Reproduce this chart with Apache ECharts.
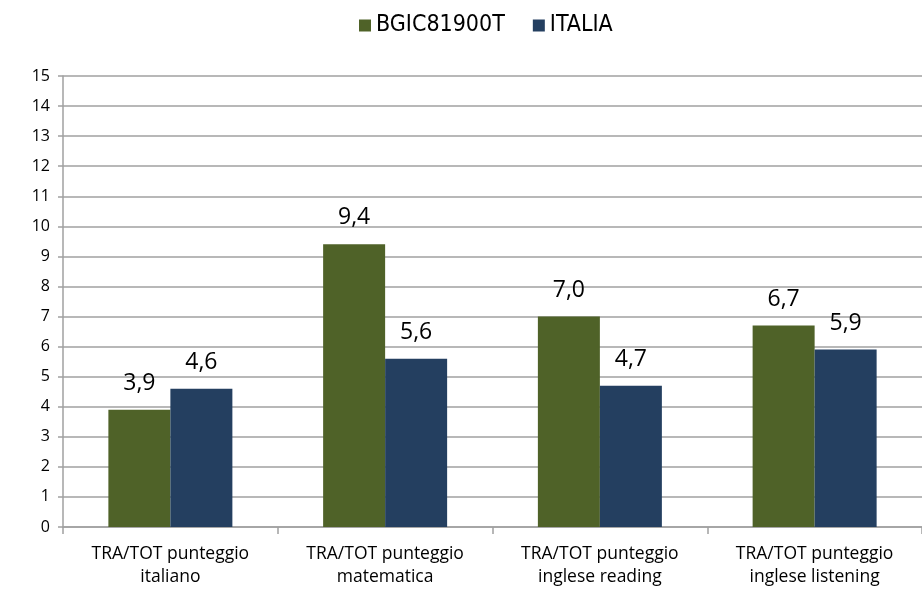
<!DOCTYPE html>
<html>
<head>
<meta charset="utf-8">
<style type="text/css">
html,body{margin:0;padding:0;background:#fff;}
#chart{width:922px;height:591px;}
</style>
<script src="https://cdn.jsdelivr.net/npm/echarts@6/dist/echarts.min.js"></script>
</head>
<body>
<div id="chart"></div>
<script type="text/javascript">
var categories = ['TRA/TOT punteggio\nitaliano', 'TRA/TOT punteggio\nmatematica', 'TRA/TOT punteggio\ninglese reading', 'TRA/TOT punteggio\ninglese listening'];
var seriesNames = ['BGIC81900T', 'ITALIA'];
var scuola = [3.9, 9.4, 7.0, 6.7];
var italia = [4.6, 5.6, 4.7, 5.9];

var chart = echarts.init(document.getElementById('chart'));

function etichetta(p){
    return p.value.toFixed(1).replace('.', ',');
}

var option = {
    animation: false,
    legend: {
        top: 9,
        left: 354,
        itemWidth: 12,
        itemHeight: 12,
        itemGap: 28,
        icon: 'rect',
        textStyle: {fontFamily: 'Liberation Sans Narrow, DejaVu Sans Condensed, sans-serif', fontSize: 23, color: '#000'},
        data: seriesNames
    },
    grid: {left: 63, top: 76, width: 870, height: 451},
    xAxis: {
        type: 'category',
        data: categories,
        axisLine: {lineStyle: {color: '#a0a0a0', width: 1.5}},
        axisTick: {show: true, length: 7, lineStyle: {color: '#a0a0a0', width: 1.5}},
        axisLabel: {color: '#000', fontFamily: 'Open Sans, sans-serif', fontSize: 17.5, lineHeight: 23, margin: 16}
    },
    yAxis: {
        type: 'value',
        min: 0,
        max: 15,
        interval: 1,
        axisLine: {show: true, lineStyle: {color: '#a0a0a0', width: 1.5}},
        axisTick: {show: true, length: 5, lineStyle: {color: '#a0a0a0', width: 1.5}},
        splitLine: {lineStyle: {color: '#a0a0a0', width: 1.5}},
        axisLabel: {color: '#000', fontFamily: 'Open Sans, sans-serif', fontSize: 16, margin: 13}
    },
    series: [
        {
            name: seriesNames[0],
            type: 'bar',
            data: scuola,
            barWidth: 62,
            barGap: '0%',
            itemStyle: {color: '#4f6228'},
            label: {show: true, position: 'top', distance: 15, formatter: etichetta, color: '#000', fontFamily: 'Open Sans, sans-serif', fontSize: 23}
        },
        {
            name: seriesNames[1],
            type: 'bar',
            data: italia,
            barWidth: 62,
            barGap: '0%',
            itemStyle: {color: '#243f60'},
            label: {show: true, position: 'top', distance: 15, formatter: etichetta, color: '#000', fontFamily: 'Open Sans, sans-serif', fontSize: 23}
        }
    ]
};
chart.setOption(option);
</script>
</body>
</html>
